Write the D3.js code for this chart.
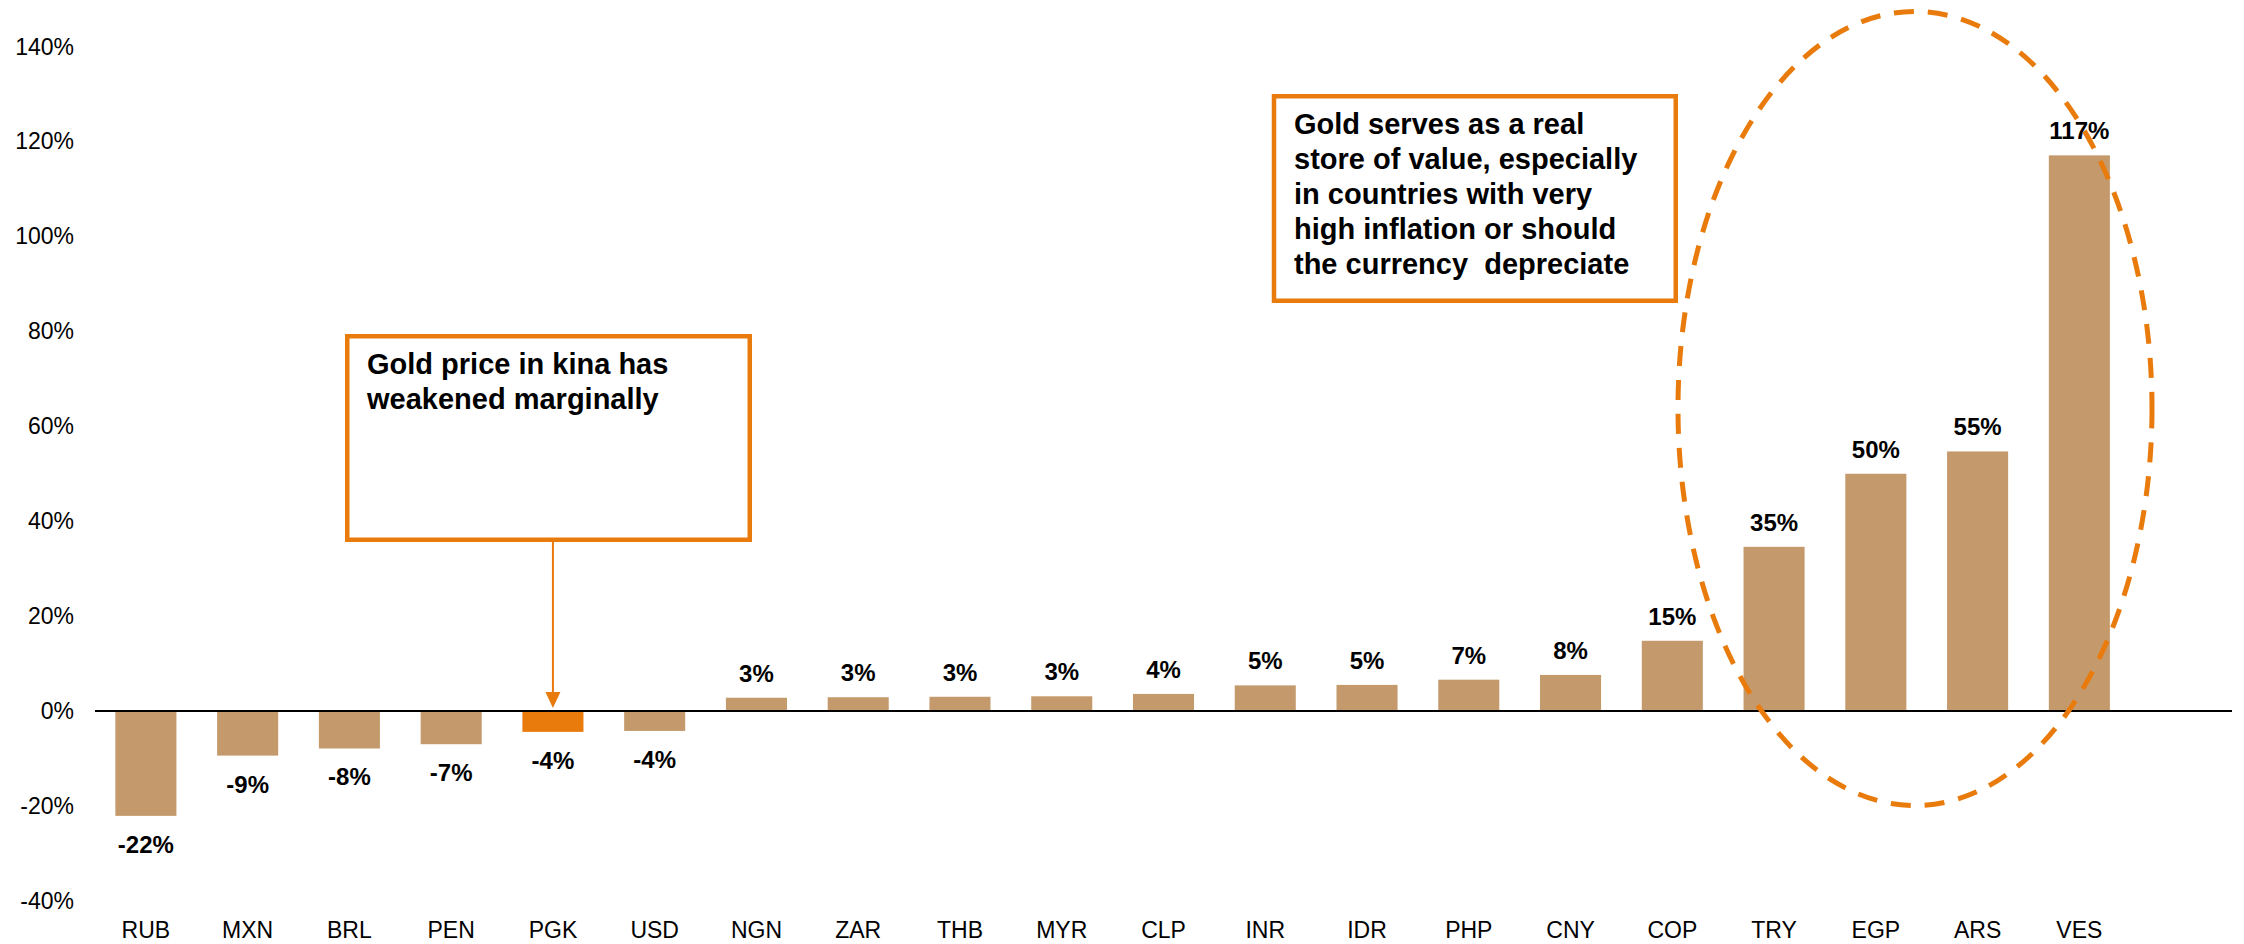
<!DOCTYPE html>
<html>
<head>
<meta charset="utf-8">
<script src="https://cdn.jsdelivr.net/npm/d3@7"></script>
<style>
  html, body { margin: 0; padding: 0; background: #fff; }
  svg { display: block; font-family: "Liberation Sans", Arial, sans-serif; }
</style>
</head>
<body>
<svg id="chart" width="2244" height="944"></svg>
<script>
// ---- data ----
const categories = ["RUB","MXN","BRL","PEN","PGK","USD","NGN","ZAR","THB","MYR","CLP","INR","IDR","PHP","CNY","COP","TRY","EGP","ARS","VES"];
const values = [-22.1,-9.4,-7.9,-7.0,-4.4,-4.2,2.8,2.9,3.0,3.1,3.6,5.4,5.5,6.6,7.6,14.8,34.6,50.0,54.7,117.1];
const valueLabels = ["-22%","-9%","-8%","-7%","-4%","-4%","3%","3%","3%","3%","4%","5%","5%","7%","8%","15%","35%","50%","55%","117%"];
const yTicks = [-40,-20,0,20,40,60,80,100,120,140];
const highlight = "PGK";
const note1 = ["Gold price in kina has", "weakened marginally"];
const note2 = ["Gold serves as a real", "store of value, especially", "in countries with very", "high inflation or should", "the currency  depreciate"];

// ---- styles ----
const barColor = "#C49A6C";
const orange = "#E97B0C";

const svg = d3.select("#chart");

const x = d3.scaleBand()
  .domain(categories.concat(["__empty"]))
  .range([95, 2232])
  .paddingInner(0.4)
  .paddingOuter(0.2);

const y = d3.scaleLinear()
  .domain([-40, 140])
  .range([900.8, 46.7]);

// y axis labels
const yAxis = d3.axisLeft(y).tickValues(yTicks).tickFormat(d => d + "%").tickSize(0).tickPadding(0);
const gy = svg.append("g").attr("transform", "translate(74,0)").call(yAxis);
gy.select(".domain").remove();
gy.selectAll("text").attr("font-size", 23).attr("fill", "#000")
  .attr("font-family", "Liberation Sans, Arial, sans-serif");

// bars
svg.append("g").selectAll("rect").data(categories).join("rect")
  .attr("x", d => x(d))
  .attr("width", x.bandwidth())
  .attr("y", (d, i) => y(Math.max(0, values[i])))
  .attr("height", (d, i) => Math.abs(y(values[i]) - y(0)))
  .attr("fill", d => d === highlight ? orange : barColor);

// zero line
svg.append("line")
  .attr("x1", x.range()[0]).attr("x2", x.range()[1])
  .attr("y1", y(0)).attr("y2", y(0))
  .attr("stroke", "#000").attr("stroke-width", 2);

// value labels
svg.append("g").selectAll("text").data(categories).join("text")
  .attr("x", d => x(d) + x.bandwidth() / 2)
  .attr("y", (d, i) => values[i] >= 0 ? y(values[i]) - 16 : y(values[i]) + 37)
  .attr("text-anchor", "middle")
  .attr("font-size", 24).attr("font-weight", "bold").attr("fill", "#000")
  .text((d, i) => valueLabels[i]);

// category axis
const xAxis = d3.axisBottom(x).tickValues(categories).tickSize(0);
const gx = svg.append("g").attr("transform", "translate(0,0)").call(xAxis);
gx.select(".domain").remove();
gx.selectAll("text").attr("y", 938).attr("dy", 0)
  .attr("font-size", 23).attr("fill", "#000")
  .attr("font-family", "Liberation Sans, Arial, sans-serif");

// annotation box 1
svg.append("rect").attr("x", 347.25).attr("y", 336.25).attr("width", 402.5).attr("height", 203.5)
  .attr("fill", "#fff").attr("stroke", orange).attr("stroke-width", 4.5);
svg.append("g").selectAll("text").data(note1).join("text")
  .attr("x", 367).attr("y", (d, i) => 374 + i * 35)
  .attr("font-size", 29).attr("font-weight", "bold").attr("fill", "#000")
  .text(d => d);

// arrow to highlighted bar
const ax = x(highlight) + x.bandwidth() / 2;
svg.append("line").attr("x1", ax).attr("x2", ax).attr("y1", 542).attr("y2", 694)
  .attr("stroke", orange).attr("stroke-width", 2);
svg.append("path")
  .attr("d", `M${ax - 7.5},692 L${ax + 7.5},692 L${ax},${y(0) - 3} Z`)
  .attr("fill", orange);

// annotation box 2
svg.append("rect").attr("x", 1274).attr("y", 96.25).attr("width", 401.75).attr("height", 204.5)
  .attr("fill", "#fff").attr("stroke", orange).attr("stroke-width", 4.5);
svg.append("g").selectAll("text").data(note2).join("text")
  .attr("x", 1294).attr("y", (d, i) => 134.3 + i * 35)
  .attr("font-size", 29).attr("font-weight", "bold").attr("fill", "#000")
  .attr("xml:space", "preserve").style("white-space", "pre")
  .text(d => d);

// dashed ellipse
svg.append("ellipse")
  .attr("cx", 1915).attr("cy", 408.5).attr("rx", 237).attr("ry", 397)
  .attr("fill", "none").attr("stroke", orange).attr("stroke-width", 5)
  .attr("stroke-dasharray", "20,14");
</script>
</body>
</html>
